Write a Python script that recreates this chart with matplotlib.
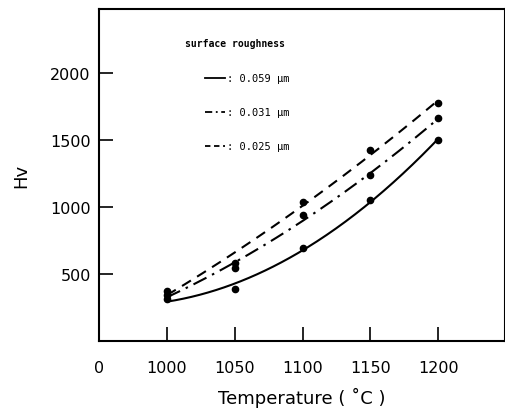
import numpy as np
import matplotlib
matplotlib.use("Agg")
import matplotlib.pyplot as plt

temps = [1000, 1050, 1100, 1150, 1200]
hv_059 = [310, 390, 694, 1054, 1500]
hv_031 = [340, 545, 940, 1239, 1662]
hv_025 = [375, 585, 1040, 1425, 1776]
labels = [": 0.059 \u03bcm", ": 0.031 \u03bcm", ": 0.025 \u03bcm"]
xtick_vals = [950, 1000, 1050, 1100, 1150, 1200]
xtick_labels = ["0", "1000", "1050", "1100", "1150", "1200"]
ytick_vals = [500, 1000, 1500, 2000]

fig = plt.figure(figsize=(5.06, 4.14), dpi=100)
ax = fig.add_axes([0.1957, 0.174, 0.802, 0.802])

styles = ["-", (0, (7, 3, 1.2, 3)), (0, (5, 3.5))]
leg_styles = ["-", (0, (4, 2, 1, 2)), (0, (3, 2))]
series = [hv_059, hv_031, hv_025]
xs = np.linspace(1000, 1200, 200)
t = np.array(temps, dtype=float)
for vals, ls in zip(series, styles):
    c = np.polyfit(t, np.array(vals, dtype=float), 2)
    ax.plot(xs, np.polyval(c, xs), color="black", lw=1.5, linestyle=ls)
    ax.plot(temps, vals, "o", color="black", ms=4.5)

ax.set_xlim(950, 1249)
ax.set_ylim(0, 2480)
ax.set_xticks(xtick_vals)
ax.set_xticklabels(xtick_labels)
ax.set_yticks(ytick_vals)
ax.tick_params(direction="in", length=10, width=1.2, labelsize=11.5, pad=14)
ax.tick_params(axis="y", pad=6)
for s in ax.spines.values():
    s.set_linewidth(1.5)
ax.set_xlabel("Temperature ( \u02daC )", fontsize=13, labelpad=8)
ax.set_ylabel("Hv", fontsize=13, labelpad=14)

# legend drawn by hand in axes coords
ax.text(0.212, 0.898, "surface roughness", transform=ax.transAxes,
        family="DejaVu Sans Mono", fontsize=7, va="center", weight="bold")
ys = [0.792, 0.69, 0.587]
for y, ls, lab in zip(ys, leg_styles, labels):
    ax.plot([0.261, 0.31], [y, y], transform=ax.transAxes, color="black", lw=1.3,
            linestyle=ls)
    ax.text(0.315, y, lab, transform=ax.transAxes, family="DejaVu Sans Mono",
            fontsize=7.5, va="center")

fig.savefig("out.png", dpi=100)
